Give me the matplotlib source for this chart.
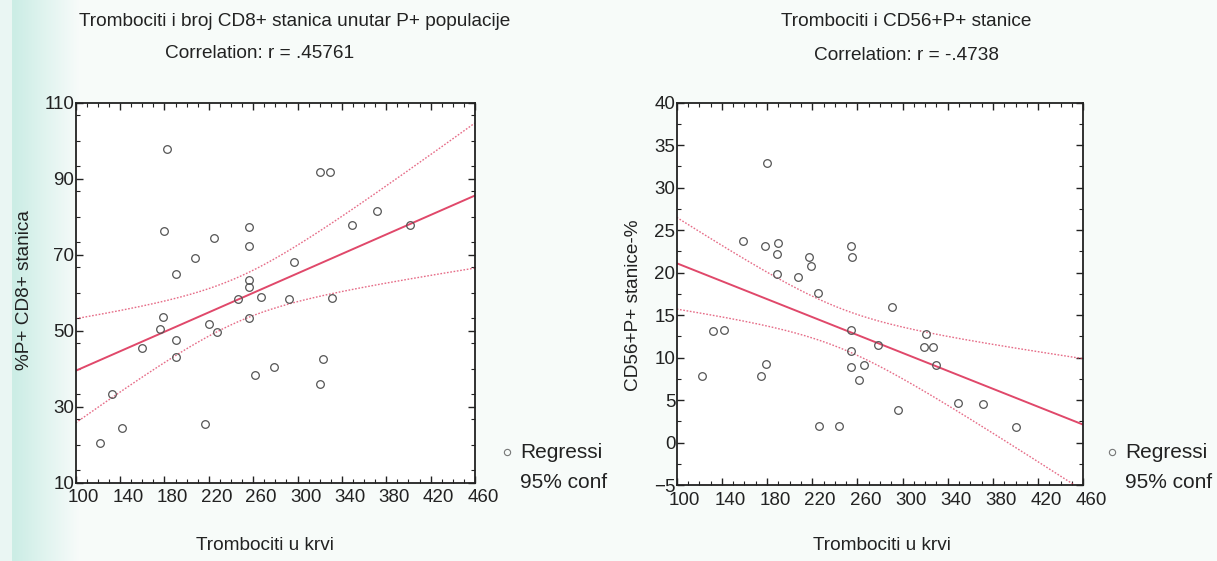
import numpy as np
import matplotlib
matplotlib.use('Agg')
import matplotlib.pyplot as plt
from matplotlib.ticker import MultipleLocator
from matplotlib.transforms import ScaledTranslation

plt.rcParams['font.family'] = ['Liberation Sans', 'DejaVu Sans']

# lijevi graf: trombociti vs %P+ CD8+
tromb_cd8 = [182, 320, 329, 180, 256, 225, 256, 208, 297, 190, 349, 372, 401,
             256, 256, 246, 267, 292, 331, 179, 256, 176, 220, 227, 160, 190,
             190, 323, 279, 262, 320, 133, 142, 217, 122]
cd8_pct = [97.8, 91.7, 91.7, 76.2, 77.2, 74.5, 72.4, 69.2, 68.0, 64.8, 77.8,
           81.4, 77.7, 63.4, 61.4, 58.3, 58.8, 58.3, 58.7, 53.5, 53.4, 50.3,
           51.7, 49.6, 45.4, 47.5, 43.0, 42.6, 40.5, 38.3, 36.0, 33.4, 24.3,
           25.3, 20.5]

# desni graf: trombociti vs CD56+P+
tromb_cd56 = [180, 159, 178, 190, 189, 189, 207, 217, 219, 225, 254, 255, 291,
              132, 142, 254, 254, 254, 266, 261, 278, 321, 319, 327, 330, 179,
              175, 122, 296, 226, 244, 349, 371, 400]
cd56_pct = [32.9, 23.7, 23.2, 23.5, 22.2, 19.8, 19.5, 21.8, 20.8, 17.6, 23.2,
            21.8, 16.0, 13.1, 13.3, 13.3, 10.8, 8.9, 9.1, 7.4, 11.5, 12.8, 11.3,
            11.3, 9.1, 9.3, 7.9, 7.9, 3.8, 2.0, 2.0, 4.7, 4.5, 1.8]

x_ticks = [100, 140, 180, 220, 260, 300, 340, 380, 420, 460]
y_ticks_cd8 = [10, 30, 50, 70, 90, 110]
y_ticks_cd56 = [-5, 0, 5, 10, 15, 20, 25, 30, 35, 40]

# legenda je u originalu odrezana
legend_labels = ['Regressi', '95% conf']

W, H = 1217, 561
fig = plt.figure(figsize=(W / 100, H / 100), dpi=100)
fig.patch.set_facecolor('#f8fbfa')

# zelenkasta traka lijevo (sken)
bg = fig.add_axes([0, 0, 1, 1], zorder=-10)
bg.set_axis_off()
grad = np.ones((10, W, 3))
xs = np.arange(W)
t = np.clip((xs - 14) / 65.0, 0, 1)
t = np.where(xs < 12, 0.7, t)
base = np.array([0.97, 0.985, 0.98])
teal = np.array([0.80, 0.93, 0.90])
grad[:, :, :] = (teal[None, :] * (1 - t)[:, None] + base[None, :] * t[:, None])[None, :, :]
bg.imshow(grad, aspect='auto', extent=[0, 1, 0, 1])
bg.set_xlim(0, 1)
bg.set_ylim(0, 1)

RED = '#e0486a'
TXT = '#222222'


def px(x, y):
    return x / W, 1 - y / H


def draw(ax, x, y, ylim, yticks, yminor):
    x = np.array(x, float)
    y = np.array(y, float)
    ax.set_facecolor('white')
    ax.plot(x, y, 'o', ms=5.5, mfc='none', mec='#555555', mew=0.9, zorder=3)

    b, a = np.polyfit(x, y, 1)
    n = len(x)
    res = y - (a + b * x)
    s = np.sqrt(np.sum(res ** 2) / (n - 2))
    sxx = np.sum((x - x.mean()) ** 2)
    xx = np.linspace(100, 460, 200)
    yy = a + b * xx
    se = s * np.sqrt(1 / n + (xx - x.mean()) ** 2 / sxx)
    ax.plot(xx, yy, color=RED, lw=1.4)
    ax.plot(xx, yy + 1.96 * se, color=RED, lw=1.0, ls=(0, (1.2, 1.2)), alpha=0.8)
    ax.plot(xx, yy - 1.96 * se, color=RED, lw=1.0, ls=(0, (1.2, 1.2)), alpha=0.8)

    ax.set_xlim(100, 460)
    ax.set_ylim(*ylim)
    ax.set_xticks(x_ticks)
    ax.set_yticks(yticks)
    ax.xaxis.set_minor_locator(MultipleLocator(10))
    ax.yaxis.set_minor_locator(MultipleLocator(yminor))
    ax.tick_params(which='both', direction='in', top=True, right=True,
                   labelsize=13.5, colors=TXT)
    ax.tick_params(axis='x', pad=5)
    ax.tick_params(axis='y', pad=1)
    ax.tick_params(which='major', length=5, width=1)
    ax.tick_params(which='minor', length=3, width=0.8)
    # oznake na x osi malo pomaknute udesno kao u originalu
    off = ScaledTranslation(8 / 100, 0, fig.dpi_scale_trans)
    for lab in ax.get_xticklabels():
        lab.set_transform(lab.get_transform() + off)
    for sp in ax.spines.values():
        sp.set_linewidth(1.3)
        sp.set_color(TXT)


ax1 = fig.add_axes([75.7 / W, 1 - 482.5 / H, 399.3 / W, 379.8 / H])
draw(ax1, tromb_cd8, cd8_pct, (10, 110), y_ticks_cd8, 20 / 3)
ax2 = fig.add_axes([676.7 / W, 1 - 485.2 / H, 406.6 / W, 382.5 / H])
draw(ax2, tromb_cd56, cd56_pct, (-5, 40), y_ticks_cd56, 2.5)

fs = 13.7
fig.text(*px(295, 22), 'Trombociti i broj CD8+ stanica unutar P+ populacije',
         ha='center', va='center', fontsize=fs, color=TXT)
fig.text(*px(260, 53), 'Correlation: r = .45761', ha='center', va='center',
         fontsize=fs, color=TXT)
fig.text(*px(906, 22), 'Trombociti i CD56+P+ stanice', ha='center', va='center',
         fontsize=fs, color=TXT)
fig.text(*px(906, 55), 'Correlation: r = -.4738', ha='center', va='center',
         fontsize=fs, color=TXT)

fig.text(*px(25, 290), '%P+ CD8+ stanica', rotation=90, ha='center', va='center',
         fontsize=fs, color=TXT)
fig.text(*px(634, 305), 'CD56+P+ stanice-%', rotation=90, ha='center', va='center',
         fontsize=fs, color=TXT)
fig.text(*px(265, 546), 'Trombociti u krvi', ha='center', va='center',
         fontsize=fs, color=TXT)
fig.text(*px(882, 546), 'Trombociti u krvi', ha='center', va='center',
         fontsize=fs, color=TXT)

# legende
for mx in [507, 1112]:
    fig.lines.append(plt.Line2D([mx / W], [1 - 452 / H], marker='o', ms=4.5,
                                mfc='none', mec='#777777', mew=0.8,
                                transform=fig.transFigure))
    for yy, txt in zip([452, 482], legend_labels):
        fig.text((mx + 13) / W, 1 - yy / H, txt, ha='left', va='center',
                 fontsize=15, color=TXT)

fig.savefig('out.png', dpi=100, facecolor=fig.get_facecolor())
